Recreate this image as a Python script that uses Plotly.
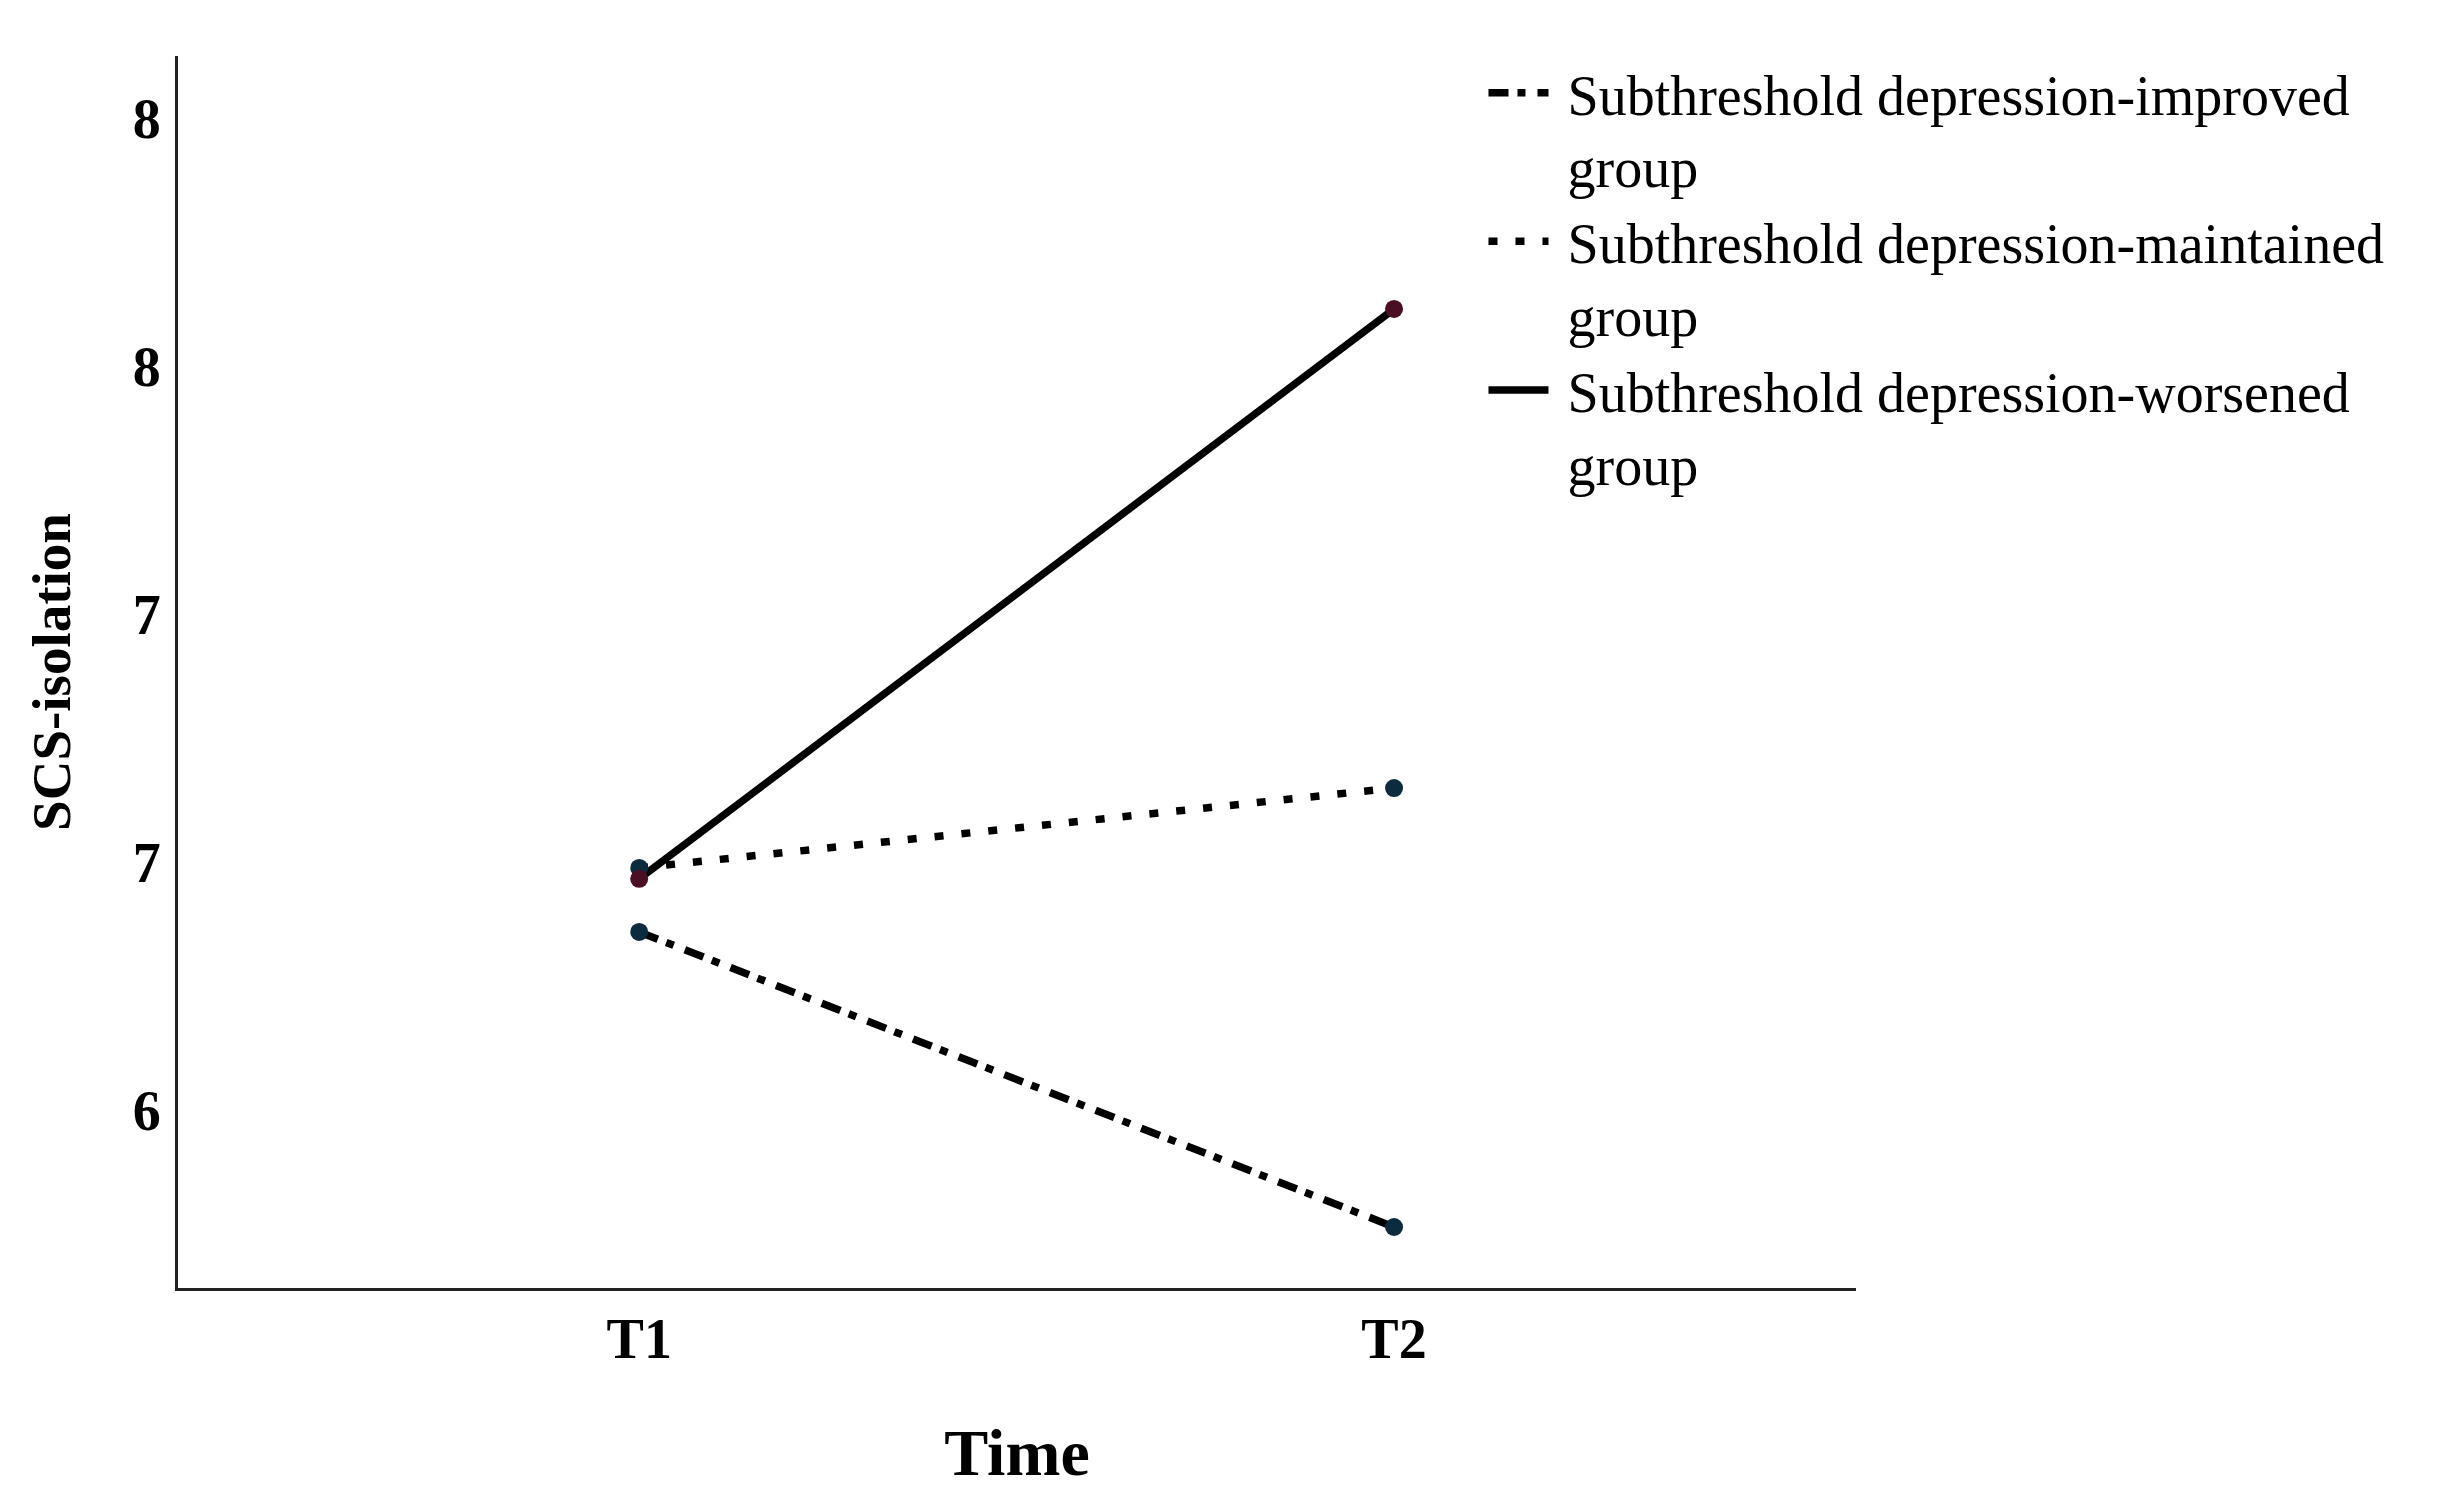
import plotly.graph_objects as go

# ---- data ----
times = ["T1", "T2"]
improved = [6.859, 6.264]
maintained = [6.988, 7.149]
worsened = [6.966, 8.115]
series_names = [
    "\u00a0Subthreshold depression-improved<br>\u00a0group",
    "\u00a0Subthreshold depression-maintained<br>\u00a0group",
    "\u00a0Subthreshold depression-worsened<br>\u00a0group",
]
ytick_vals = [6.5, 7.0, 7.5, 8.0, 8.5]
ytick_text = ["6", "7", "7", "8", "8"]

FONT = "Liberation Serif, Times New Roman, serif"

series = [
    (improved, series_names[0], "20px,9px,8px,12px", "#0d2b3e", "g1"),
    (maintained, series_names[1], "9px,18px", "#0d2b3e", "g2"),
    (worsened, series_names[2], "solid", "#4a0f25", "g3"),
]

fig = go.Figure()
# lines (shown in legend)
for vals, name, dash, mcol, grp in series:
    fig.add_trace(go.Scatter(
        x=times, y=vals, name=name, mode="lines", legendgroup=grp,
        line=dict(color="#000000", width=7.5, dash=dash),
    ))
# markers (not in legend)
for vals, name, dash, mcol, grp in series:
    fig.add_trace(go.Scatter(
        x=times, y=vals, name=name, mode="markers", legendgroup=grp,
        showlegend=False,
        marker=dict(size=18, color=mcol),
    ))

fig.update_layout(
    width=2457, height=1504,
    margin=dict(l=170, r=609, t=48, b=224),
    paper_bgcolor="white", plot_bgcolor="white",
    font=dict(family=FONT, color="black"),
    showlegend=True,
    legend=dict(
        x=0.778, y=1.005, xanchor="left", yanchor="top",
        font=dict(family=FONT, size=56, color="black"),
        bgcolor="rgba(0,0,0,0)", itemwidth=60, valign="top",
        tracegroupgap=0,
    ),
    xaxis=dict(
        type="category", range=[-0.611, 1.612],
        showline=True, linecolor="#222222", linewidth=3,
        showgrid=False, zeroline=False, ticks="",
        tickfont=dict(family=FONT, size=56, color="black", weight="bold"),
        title=dict(text="<b>Time</b>", font=dict(family=FONT, size=66, color="black"), standoff=60),
    ),
    yaxis=dict(
        range=[6.141, 8.625],
        tickvals=ytick_vals, ticktext=ytick_text,
        showline=True, linecolor="#222222", linewidth=3,
        showgrid=False, zeroline=False, ticks="",
        ticklabelstandoff=3,
        tickfont=dict(family=FONT, size=56, color="black", weight="bold"),
        title=dict(text="<b>SCS-isolation</b>", font=dict(family=FONT, size=55, color="black"), standoff=45),
    ),
)

fig.write_html("out.html")
